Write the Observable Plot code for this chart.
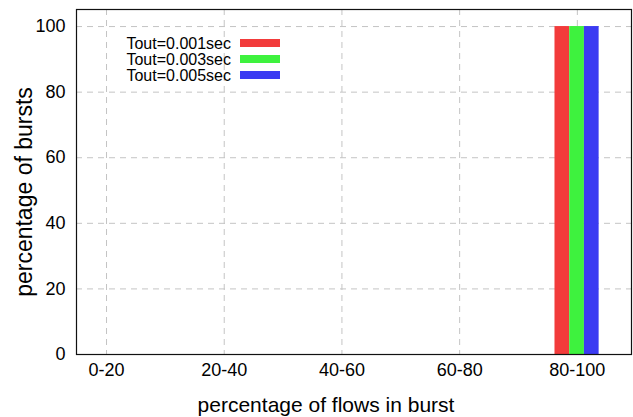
<!DOCTYPE html>
<html>
<head>
<meta charset="utf-8">
<script src="https://cdn.jsdelivr.net/npm/d3@7"></script>
<script src="https://cdn.jsdelivr.net/npm/@observablehq/plot@0.6"></script>
<style>
  html, body { margin: 0; padding: 0; background: #fff; }
  svg { font-family: "Liberation Sans", Arial, Helvetica, sans-serif; }
</style>
</head>
<body>
<div id="chart"></div>
<script>
const categories = ["0-20", "20-40", "40-60", "60-80", "80-100"];
const seriesNames = ["Tout=0.001sec", "Tout=0.003sec", "Tout=0.005sec"];
const seriesColors = ["#f23b3b", "#3ef23e", "#3b3bf2"];
const values001 = [0, 0, 0, 0, 100];
const values003 = [0, 0, 0, 0, 100];
const values005 = [0, 0, 0, 0, 100];
const yTicks = [0, 20, 40, 60, 80, 100];

const seriesValues = [values001, values003, values005];
const data = [];
seriesValues.forEach((vals, s) => {
  vals.forEach((v, i) => data.push({cat: i, s, name: seriesNames[s], value: v}));
});

const barW = 0.125;
const barStart = -0.19;

const W = 633, H = 417;
const plot = Plot.plot({
  width: W,
  height: H,
  marginLeft: 76,
  marginRight: 2,
  marginTop: 9,
  marginBottom: 63,
  style: {fontFamily: '"Liberation Sans", Arial, Helvetica, sans-serif', background: "#fff"},
  x: {domain: [-0.255, 4.46], axis: null},
  y: {domain: [0, 105.2], axis: null},
  color: {domain: seriesNames, range: seriesColors},
  marks: [
    Plot.gridX(d3.range(categories.length), {stroke: "#c4c4c4", strokeOpacity: 1, strokeDasharray: "6,5"}),
    Plot.gridY(yTicks.slice(1), {stroke: "#c4c4c4", strokeOpacity: 1, strokeDasharray: "6,5"}),
    Plot.rectY(data.filter(d => d.value > 0), {
      x1: d => d.cat + barStart + d.s * barW,
      x2: d => d.cat + barStart + (d.s + 1) * barW,
      y1: 0,
      y2: "value",
      fill: "name"
    }),
    Plot.axisX(d3.range(categories.length), {
      tickFormat: i => categories[i],
      tickSize: 0,
      tickPadding: 9,
      fontSize: 18,
      label: null,
      color: "#000"
    }),
    Plot.axisY(yTicks, {
      tickSize: 0,
      tickPadding: 11,
      fontSize: 18,
      label: null,
      color: "#000"
    }),
    Plot.frame({stroke: "#111", strokeWidth: 1.2}),
    Plot.text(["percentage of flows in burst"], {
      frameAnchor: "bottom", dx: -28, dy: 57, fontSize: 21, lineAnchor: "bottom", fill: "#000"
    }),
    Plot.text(["percentage of bursts"], {
      frameAnchor: "left", dx: -52, dy: 10, rotate: -90, textAnchor: "middle", fontSize: 23, fill: "#000"
    })
  ]
});
document.getElementById("chart").appendChild(plot);

// legend (inside plot, top-left)
const svg = d3.select(plot);
const lg = svg.append("g").attr("font-size", 16).attr("fill", "#000");
seriesNames.forEach((name, i) => {
  const y = 43 + i * 16;
  lg.append("text").attr("x", 231).attr("y", y).attr("text-anchor", "end")
    .attr("dy", "0.35em").text(name);
  lg.append("rect").attr("x", 240).attr("y", y - 4).attr("width", 40).attr("height", 8)
    .attr("fill", seriesColors[i]);
});
</script>
</body>
</html>
